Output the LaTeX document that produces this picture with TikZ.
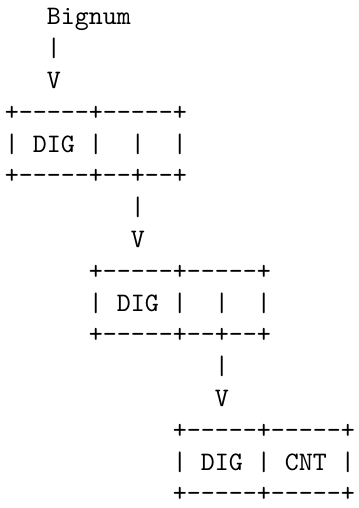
\documentclass[tikz,border=0pt]{standalone}
\usepackage{fontspec}
% one dash that never joins its neighbour into an en dash
\newcommand\D{-{}}
\begin{document}
\begin{tikzpicture}[
  x=5.25pt, y=-11.925pt,
  asc/.style={font=\ttfamily\fontsize{10pt}{12pt}\selectfont,
              anchor=base west, inner sep=0pt, outer sep=0pt}]
\useasboundingbox (0pt,0pt) rectangle (134.25pt,-190.5pt);
\begin{scope}[shift={(1.8pt,-9.3pt)}]
  % head pointer
  \node[asc] (head)  at (3,0)  {Bignum};
  \node[asc] (hbar)  at (3,1)  {|};
  \node[asc] (harr)  at (3,2)  {V};
  % first cell
  \node[asc] (atop)  at (0,3)  {+\D\D\D\D\D+\D\D\D\D\D+};
  \node[asc] (amid)  at (0,4)  {|~DIG~|~~|~~|};
  \node[asc] (abot)  at (0,5)  {+\D\D\D\D\D+\D\D+\D\D+};
  \node[asc] (abar)  at (9,6)  {|};
  \node[asc] (aarr)  at (9,7)  {V};
  % second cell
  \node[asc] (btop)  at (6,8)  {+\D\D\D\D\D+\D\D\D\D\D+};
  \node[asc] (bmid)  at (6,9)  {|~DIG~|~~|~~|};
  \node[asc] (bbot)  at (6,10) {+\D\D\D\D\D+\D\D+\D\D+};
  \node[asc] (bbar)  at (15,11) {|};
  \node[asc] (barr)  at (15,12) {V};
  % last cell
  \node[asc] (ctop)  at (12,13) {+\D\D\D\D\D+\D\D\D\D\D+};
  \node[asc] (cmid)  at (12,14) {|~DIG~|~CNT~|};
  \node[asc] (cbot)  at (12,15) {+\D\D\D\D\D+\D\D\D\D\D+};
\end{scope}
\end{tikzpicture}
\end{document}
